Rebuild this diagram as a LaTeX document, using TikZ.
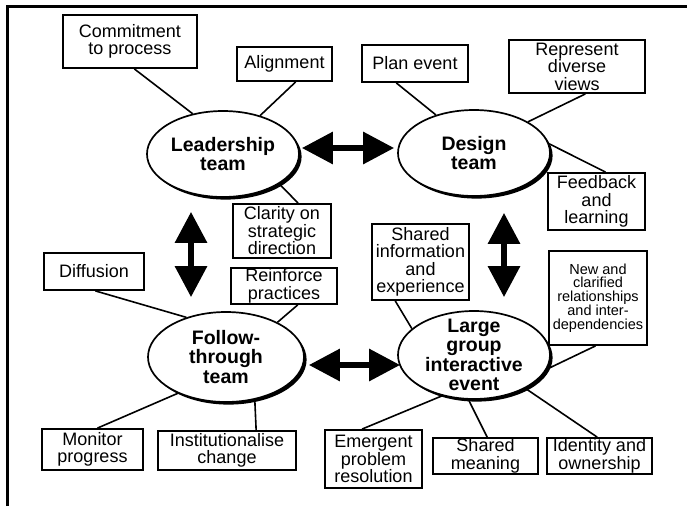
\documentclass[tikz,border=0pt]{standalone}
\usepackage{fontspec}
\setmainfont{Liberation Sans}
\usetikzlibrary{arrows.meta,shadows,shapes.geometric}

\tikzset{
  boxtext/.style={font=\fontsize{18}{17.5}\selectfont, align=center, inner sep=0pt},
  smalltext/.style={font=\fontsize{14.5}{13.8}\selectfont, align=center, inner sep=0pt},
  box/.style={draw, line width=1.8pt, rectangle, inner sep=0pt, fill=white},
  team/.style={ellipse, draw, line width=1.7pt, fill=white, inner sep=0pt,
    drop shadow={shadow xshift=2.6pt, shadow yshift=-2.6pt, opacity=1, fill=black}},
  teamtext/.style={font=\bfseries\fontsize{19.5}{19.5}\selectfont, align=center, inner sep=0pt},
  link/.style={line width=1.6pt},
  bigarrow/.style={line width=6pt,
    {Triangle[length=31pt 0 0,width=31pt 0 0]}-{Triangle[length=31pt 0 0,width=31pt 0 0]}},
}

\begin{document}
\begin{tikzpicture}[x=1pt,y=1pt]
\useasboundingbox (0,0) rectangle (687,-506);
\fill[white] (0,0) rectangle (687,-506);

% outer frame (top and left edges)
\draw[line width=3pt] (7,-506) -- (7,-6) -- (687,-6);

% the four groups
\node[team, minimum width=152, minimum height=86,
  label={[teamtext]center:{Leadership\\team}}] (leader) at (223,-154) {};
\node[team, minimum width=152, minimum height=86,
  label={[teamtext]center:{Design\\team}}] (design) at (474,-153) {};
\node[team, minimum width=156, minimum height=90,
  label={[teamtext]center:{Follow-\\through\\team}}] (follow) at (226,-357) {};
\node[team, minimum width=152, minimum height=88,
  label={[teamtext]center:{Large\\group\\interactive\\event}}] (large) at (474,-355) {};

% outcome boxes
\node[box, minimum width=134, minimum height=53,
  label={[boxtext]center:{Commitment\\to process}}] (commit) at (130,-41.5) {};
\node[box, minimum width=95, minimum height=34,
  label={[boxtext]center:{Alignment}}] (align) at (284.5,-64) {};
\node[box, minimum width=98, minimum height=54,
  label={[boxtext]center:{Clarity on\\strategic\\direction}}] (clarity) at (282,-231) {};
\node[box, minimum width=106, minimum height=36,
  label={[boxtext]center:{Reinforce\\practices}}] (reinforce) at (284,-286) {};
\node[box, minimum width=106, minimum height=37,
  label={[boxtext]center:{Plan event}}] (plan) at (415,-63.5) {};
\node[box, minimum width=136, minimum height=53,
  label={[boxtext]center:{Represent\\diverse\\views}}] (represent) at (577,-66.5) {};
\node[box, minimum width=97, minimum height=57,
  label={[boxtext]center:{Feedback\\and\\learning}}] (feedback) at (596.5,-201.5) {};
\node[box, minimum width=97, minimum height=76,
  label={[boxtext]center:{Shared\\information\\and\\experience}}] (sharedinfo) at (420.5,-262) {};
\node[box, minimum width=98, minimum height=94,
  label={[smalltext]center:{New and\\clarified\\relationships\\and inter-\\dependencies}}] (newrel) at (598,-298) {};
\node[box, minimum width=100, minimum height=37,
  label={[boxtext]center:{Diffusion}}] (diffusion) at (94,-271.5) {};
\node[box, minimum width=101, minimum height=41,
  label={[boxtext]center:{Monitor\\progress}}] (monitor) at (92.5,-449.5) {};
\node[box, minimum width=138, minimum height=39,
  label={[boxtext]center:{Institutionalise\\change}}] (instit) at (227,-450.5) {};
\node[box, minimum width=97, minimum height=58,
  label={[boxtext]center:{Emergent\\problem\\resolution}}] (emergent) at (373.5,-459) {};
\node[box, minimum width=105, minimum height=36,
  label={[boxtext]center:{Shared\\meaning}}] (meaning) at (485.5,-456) {};
\node[box, minimum width=105, minimum height=36,
  label={[boxtext]center:{Identity and\\ownership}}] (identity) at (599.5,-456) {};

% spokes from each group to its outcomes
\draw[link] (commit.-81.4) -- (leader.127.1);
\draw[link] (align.-58.3) -- (leader.46.5);
\draw[link] (leader.-28.8) -- (clarity.60.9);
\draw[link] (reinforce.-54.2) -- (follow.34.5);
\draw[link] (plan.-134.2) -- (design.135.8);
\draw[link] (represent.-73.2) -- (design.30.5);
\draw[link] (design.7) -- (feedback.73.4);
\draw[link] (sharedinfo.-123.9) -- (large.157.4);
\draw[link] (newrel.-93.7) -- (large.-11.5);
\draw[link] (large.-128.7) -- (emergent.111.6);
\draw[link] (large.-97.1) -- (meaning.85.2);
\draw[link] (large.-33.5) -- (identity.97.9);
\draw[link] (diffusion.-86.9) -- (follow.135.7);
\draw[link] (monitor.77.6) -- (follow.-143.1);
\draw[link] (follow.-56.3) -- (instit.35.8);

% two-way links between the groups
\draw[bigarrow] ([xshift=2pt,yshift=6pt]leader.east) -- ([xshift=-3pt,yshift=5pt]design.west);
\draw[bigarrow] ([xshift=-32pt,yshift=-14pt]leader.south) -- ([xshift=-35pt,yshift=14pt]follow.north);
\draw[bigarrow] ([xshift=30pt,yshift=-16pt]design.south) -- ([xshift=30pt,yshift=13pt]large.north);
\draw[bigarrow] ([xshift=4pt,yshift=-8pt]follow.east) -- ([xshift=3pt,yshift=-10pt]large.west);
\end{tikzpicture}
\end{document}
